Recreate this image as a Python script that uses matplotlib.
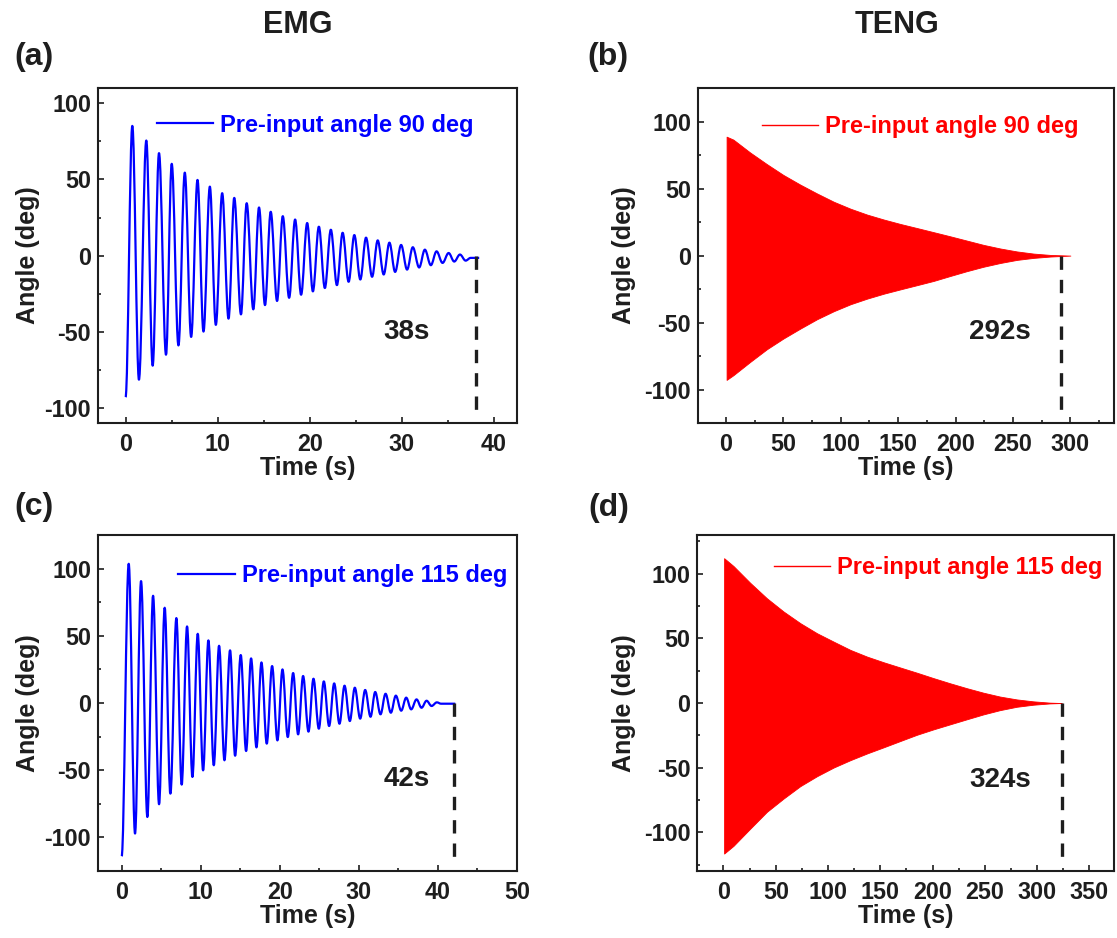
import matplotlib
matplotlib.use("Agg")
import matplotlib.pyplot as plt
from matplotlib.path import Path
from matplotlib.patches import PathPatch
from matplotlib.lines import Line2D
from matplotlib.ticker import MultipleLocator

plt.rcParams['font.family'] = ['Liberation Sans', 'DejaVu Sans']
plt.rcParams['font.weight'] = 'bold'
plt.rcParams['axes.labelweight'] = 'bold'
plt.rcParams['axes.unicode_minus'] = False

INK = '#1e1e1e'

# ---- EMG, pre-input 90 deg: successive turning points of the swing (s, deg)
emg90_t = [0, 0.73, 1.45, 2.25, 2.94, 3.63, 4.39, 5.01, 5.74, 6.43, 7.12, 7.81, 8.46,
           9.15, 9.80, 10.49, 11.18, 11.80, 12.53, 13.15, 13.87, 14.49, 15.14, 15.76,
           16.45, 17.07, 17.76, 18.41, 19.06, 19.72, 20.34, 20.99, 21.64, 22.29, 22.95,
           23.57, 24.22, 24.84, 25.49, 26.11, 26.77, 27.38, 28.03, 28.65, 29.27, 29.92,
           30.57, 31.19, 31.88, 32.50, 33.15, 33.77, 34.42, 35.08, 35.69, 36.31, 36.93,
           37.47, 38.4]
emg90_y = [-93, 85.2, -81.5, 75.6, -72.3, 67.3, -65.1, 60.3, -59.0, 54.5, -53.4, 49.7,
           -49.9, 45.3, -45.5, 41.0, -41.4, 37.9, -38.6, 34.4, -35.3, 31.6, -32.5, 28.8,
           -29.8, 25.9, -27.7, 23.7, -25.7, 21.4, -23.5, 19.0, -21.3, 17.0, -19.4, 15.0,
           -17.2, 13.5, -15.7, 11.8, -13.9, 10.0, -12.4, 8.5, -10.7, 7.0, -9.2, 5.5, -7.8,
           3.9, -6.3, 2.8, -4.8, 1.7, -3.9, 0.7, -3.3, -1.5, -1.5]

# ---- EMG, pre-input 115 deg
emg115_t = [0, 0.89, 1.69, 2.45, 3.25, 3.97, 4.73, 5.44, 6.16, 6.92, 7.59, 8.27, 8.95,
            9.62, 10.30, 10.97, 11.65, 12.32, 13.00, 13.71, 14.35, 15.06, 15.74, 16.37,
            17.05, 17.68, 18.35, 19.03, 19.70, 20.34, 21.01, 21.69, 22.32, 22.95, 23.63,
            24.26, 24.94, 25.57, 26.24, 26.88, 27.55, 28.19, 28.86, 29.49, 30.17, 30.80,
            31.48, 32.07, 32.74, 33.38, 34.05, 34.68, 35.36, 35.99, 36.62, 37.30, 37.93,
            38.57, 39.20, 39.87, 40.4, 42.2]
emg115_y = [-114, 103.6, -97.1, 90.7, -84.8, 79.8, -75.3, 70.9, -67.4, 63.2, -60.7, 57.0,
            -55.0, 51.5, -50.1, 46.6, -46.3, 42.6, -42.6, 39.2, -39.2, 35.7, -35.7, 33.2,
            -33.0, 30.2, -30.2, 27.5, -27.8, 25.0, -25.3, 22.3, -23.3, 20.1, -21.3, 18.1,
            -19.1, 16.1, -17.1, 14.6, -15.4, 12.9, -13.4, 11.4, -11.6, 9.7, -10.2, 8.2,
            -8.4, 6.9, -7.2, 5.5, -5.7, 4.0, -4.7, 2.7, -3.5, 1.7, -2.2, 0.5, -0.5, -0.5]

# ---- TENG, pre-input 90 deg: envelope of the dense oscillation (s, deg)
teng90_t = [0.5, 6.4, 21, 35.6, 50, 64.7, 79.3, 93.9, 108.5, 123, 137.6, 152, 166.3,
            180.9, 195.4, 209.9, 224.4, 239, 253.5, 268, 282.6, 300]
teng90_hi = [88.8, 86.6, 77.0, 68.3, 60.2, 53.0, 46.4, 40.2, 35.0, 30.6, 26.9, 23.6, 20.6,
             17.5, 14.4, 11.2, 8.0, 5.3, 3.1, 1.5, 0.5, 0]
teng90_lo = [-92.8, -89.3, -79.4, -69.9, -61.9, -54.5, -47.5, -41.5, -36.3, -32.1, -28.4,
             -25.2, -22.1, -18.9, -15.2, -11.6, -8.3, -5.5, -3.2, -1.7, -0.7, 0]

# ---- TENG, pre-input 115 deg
teng115_t = [0.6, 9.6, 25.6, 41.5, 57.5, 73.5, 89.5, 105.4, 121.4, 137.4, 153.4, 169.1,
             184.9, 200.8, 216.7, 232.7, 248.6, 264.5, 280.5, 296.4, 312.3, 323.5]
teng115_hi = [112.1, 106, 93.0, 81.1, 70.8, 61.8, 54, 47.5, 41.1, 35.9, 31.5, 27.5, 23.5,
              19.3, 15.3, 11.5, 8.0, 5.0, 2.8, 1.3, 0.3, 0]
teng115_lo = [-116.5, -110.5, -97.2, -84.2, -73.9, -64.3, -56.6, -49.9, -44.2, -39, -34.2,
              -29.4, -24.6, -20.4, -16.5, -12.6, -8.8, -5.5, -2.9, -1.3, -0.3, 0]

# stop times written on each panel
stop_times = [38, 292, 42, 324]
stop_labels = ['38s', '292s', '42s', '324s']
legend_labels = ['Pre-input angle 90 deg', 'Pre-input angle 90 deg',
                 'Pre-input angle 115 deg', 'Pre-input angle 115 deg']
panel_tags = ['(a)', '(b)', '(c)', '(d)']
column_titles = ['EMG', 'TENG']


def swing_path(t, y, k=0.36):
    """Smooth path through turning points, horizontal tangent at each one."""
    verts = [(t[0], y[0])]
    codes = [Path.MOVETO]
    for i in range(len(t) - 1):
        dt = t[i + 1] - t[i]
        verts += [(t[i] + k * dt, y[i]), (t[i + 1] - k * dt, y[i + 1]), (t[i + 1], y[i + 1])]
        codes += [Path.CURVE4] * 3
    return Path(verts, codes)


fig = plt.figure(figsize=(11.17, 9.38), dpi=100)
axes = [
    fig.add_axes([0.0877, 0.549, 0.3751, 0.357]),
    fig.add_axes([0.6249, 0.549, 0.3724, 0.357]),
    fig.add_axes([0.0877, 0.0714, 0.3751, 0.3582]),
    fig.add_axes([0.6243, 0.0714, 0.3730, 0.3582]),
]

cfg = [
    dict(xlim=(-3, 42.5), ylim=(-110, 110), xmaj=10, xmin=5, label_xy=(30.5, -49.9),
         dash_bottom=-104, leg=(0.140, 0.8896), color='#0000ff', ylab_x=-0.138),
    dict(xlim=(-24.4, 338), ylim=(-125, 125), xmaj=50, xmin=25, label_xy=(239, -57),
         dash_bottom=-118, leg=(0.153, 0.8845), color='#ff0000', ylab_x=-0.148),
    dict(xlim=(-3, 50), ylim=(-125, 125), xmaj=10, xmin=5, label_xy=(36.0, -56.3),
         dash_bottom=-116, leg=(0.1917, 0.879), color='#0000ff', ylab_x=-0.138),
    dict(xlim=(-25, 373.5), ylim=(-130, 130), xmaj=50, xmin=25, label_xy=(264.5, -59.2),
         dash_bottom=-120, leg=(0.183, 0.9027), color='#ff0000', ylab_x=-0.148),
]

# EMG traces
for ax, (t, y) in zip([axes[0], axes[2]], [(emg90_t, emg90_y), (emg115_t, emg115_y)]):
    ax.add_patch(PathPatch(swing_path(t, y), fill=False, edgecolor='#0000ff', lw=1.6,
                           joinstyle='round'))

# TENG traces
for ax, (t, lo, hi) in zip([axes[1], axes[3]], [(teng90_t, teng90_lo, teng90_hi),
                                                 (teng115_t, teng115_lo, teng115_hi)]):
    ax.fill_between(t, lo, hi, color='#ff0000', lw=0.6)

for i, ax in enumerate(axes):
    c = cfg[i]
    ax.set_xlim(*c['xlim'])
    ax.set_ylim(*c['ylim'])
    ax.xaxis.set_major_locator(MultipleLocator(c['xmaj']))
    ax.xaxis.set_minor_locator(MultipleLocator(c['xmin']))
    ax.yaxis.set_major_locator(MultipleLocator(50))
    ax.yaxis.set_minor_locator(MultipleLocator(25))
    if i == 0:
        ax.set_yticks([-100, -50, 0, 50, 100])
    for s in ax.spines.values():
        s.set_linewidth(1.5)
        s.set_color(INK)
    ax.tick_params(which='both', direction='in', top=False, right=False, width=1.2,
                   colors=INK, labelsize=16.8)
    ax.tick_params(which='major', length=4.5)
    ax.tick_params(which='minor', length=2.5)
    ax.tick_params(axis='x', pad=7)
    ax.tick_params(axis='y', pad=5)
    ax.set_xlabel('Time (s)', fontsize=18, color=INK, labelpad=0)
    ax.set_ylabel('Angle (deg)', fontsize=18, color=INK)
    ax.yaxis.set_label_coords(c['ylab_x'], 0.5)

    # dashed marker at the stop time
    ax.plot([stop_times[i], stop_times[i]], [0, c['dash_bottom']], color=INK, lw=2.4,
            linestyle=(0, (4.0, 3.0)))
    ax.text(*c['label_xy'], stop_labels[i], fontsize=20, color=INK, ha='center',
            va='center')

    lw = 1.6 if i in (0, 2) else 1.0
    handle = Line2D([], [], color=c['color'], lw=lw)
    ax.legend([handle], [legend_labels[i]], loc='center left', bbox_to_anchor=c['leg'],
              frameon=False, handlelength=2.4, handletextpad=0.3,
              borderpad=0, borderaxespad=0, labelcolor=c['color'],
              prop=dict(weight='bold', size=17))

fig.text(0.2663, 0.9735, column_titles[0], fontsize=22, color=INK, ha='center', va='center')
fig.text(0.803, 0.9735, column_titles[1], fontsize=22, color=INK, ha='center', va='center')
tag_pos = [(0.0125, 0.939), (0.5255, 0.9395), (0.0125, 0.4595), (0.527, 0.458)]
for tag, (x, y) in zip(panel_tags, tag_pos):
    fig.text(x, y, tag, fontsize=23, color=INK, ha='left', va='center')

fig.savefig('out.png', dpi=100)
